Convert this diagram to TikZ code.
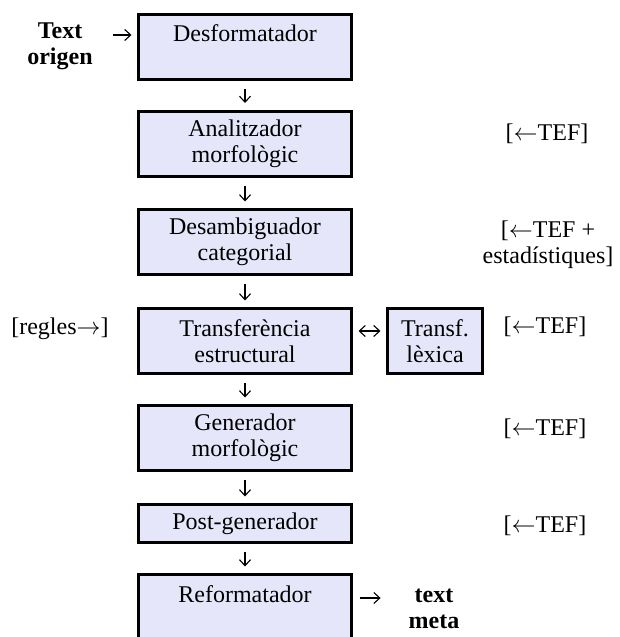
\documentclass[tikz,border=0pt]{standalone}
\usepackage{fontspec}
\setmainfont{Liberation Serif}
\usetikzlibrary{arrows.meta}
\definecolor{boxfill}{RGB}{230,230,250}
\tikzset{every picture/.style={x=.5pt,y=-.5pt},
  >={Straight Barb[length=3pt,width=5.5pt]},
  stage/.style={draw,line width=1.5pt,fill=boxfill,minimum width=106.5pt,minimum height=32.5pt,align=center,inner sep=0pt},
  side/.style={align=center,inner sep=0pt},
  flow/.style={->,line width=.55pt,shorten <=4pt,shorten >=3.25pt}}

\begin{document}
\fontsize{12}{13}\selectfont
\begin{tikzpicture}
\useasboundingbox (0,0) rectangle (620,637);
\clip (0,0) rectangle (620,637);
\node[stage] (desf) at (245,46.5) {Desformatador\\\mbox{}};
\node[stage] (anal) at (245,143.5) {Analitzador\\morfològic};
\node[stage] (desamb) at (245,242) {Desambiguador\\categorial};
\node[stage] (trans) at (245,341) {Transferència\\estructural};
\node[stage] (gen) at (245,438) {Generador\\morfològic};
\node[stage,minimum height=19pt] (post) at (245,523.5) {Post-generador};
\node[stage] (reform) at (245,607) {Reformatador\\\mbox{}};
\node[stage,minimum width=47.5pt] (lex) at (435,341) {Transf.\\lèxica};

\node[side,font=\bfseries] (origen) at (60,46.5) {Text\\origen};
\node[side,font=\bfseries] (meta) at (434,609) {text\\meta};
\node[side] (regles) at (60,329) {[regles$\rightarrow$]};
\node[side] (tef1) at (547,134) {[$\leftarrow$TEF]};
\node[side] (tef2) at (548,244.5) {[$\leftarrow$TEF +\\estadístiques]};
\node[side] (tef3) at (545,327) {[$\leftarrow$TEF]};
\node[side] (tef4) at (545,429) {[$\leftarrow$TEF]};
\node[side] (tef5) at (545,526) {[$\leftarrow$TEF]};

\draw[flow] (desf) -- (anal);
\draw[flow] (anal) -- (desamb);
\draw[flow] (desamb) -- (trans);
\draw[flow] (trans) -- (gen);
\draw[flow] (gen) -- (post);
\draw[flow] (post) -- (reform);
\draw[flow,shorten <=10.2pt,shorten >=2.75pt] ([yshift=5.75pt]origen.east) -- ([yshift=5.75pt]desf.west);
\draw[flow,<->,shorten <=2.75pt,shorten >=2.75pt] ([yshift=5pt]trans.east) -- ([yshift=5pt]lex.west);
\draw[flow,shorten <=3.25pt,shorten >=13.85pt] ([yshift=4.5pt]reform.east) -- ([yshift=5.5pt]meta.west);
\end{tikzpicture}
\end{document}
